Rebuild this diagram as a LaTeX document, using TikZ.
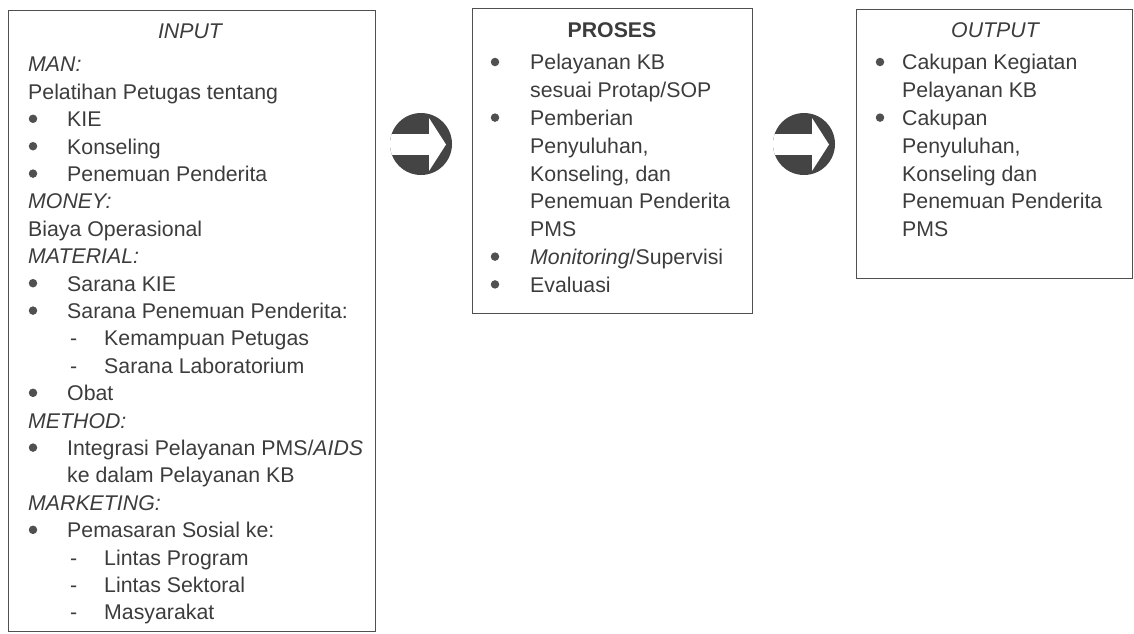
\documentclass[tikz,border=0pt]{standalone}
\usepackage{fontspec}
\setmainfont{Liberation Sans}
\begin{document}
\begin{tikzpicture}[x=1pt,y=-1pt,
  every node/.style={text=ink},
  txt/.style={anchor=base west,inner sep=0pt,font=\fontsize{21.3}{25}\selectfont},
  ttl/.style={anchor=base,inner sep=0pt,font=\fontsize{21.3}{25}\selectfont},
  panel/.style={draw=edge,line width=1.3pt,rectangle,inner sep=0pt,anchor=north west},
  dot/.style={circle,fill=edge,inner sep=0pt,minimum size=8.5pt},
  disc/.style={circle,fill=discc,inner sep=0pt,minimum size=62pt}]
\definecolor{ink}{HTML}{3C3C3C}
\definecolor{edge}{HTML}{505050}
\definecolor{discc}{HTML}{444444}
\useasboundingbox (0,0) rectangle (1134,633);
% boxes
\node[panel,minimum width=367pt,minimum height=621pt] (inbox) at (8,10) {};
\node[panel,minimum width=280pt,minimum height=305pt] (prbox) at (472,8) {};
\node[panel,minimum width=276pt,minimum height=269pt] (outbox) at (856,9) {};
% INPUT text
\def\bs{7.8}
\node[ttl] (inT) at (190,31+\bs) {\itshape INPUT};
\node[txt] (i0) at (28,64+\bs) {\itshape MAN:};
\node[txt] (i1) at (28,91.4+\bs) {Pelatihan Petugas tentang};
\node[dot] (b2) at (33,118.8) {}; \node[txt] (i2) at (67,118.8+\bs) {KIE};
\node[dot] (b3) at (33,146.2) {}; \node[txt] (i3) at (67,146.2+\bs) {Konseling};
\node[dot] (b4) at (33,173.6) {}; \node[txt] (i4) at (67,173.6+\bs) {Penemuan Penderita};
\node[txt] (i5) at (28,201+\bs) {\itshape MONEY:};
\node[txt] (i6) at (28,228.4+\bs) {Biaya Operasional};
\node[txt] (i7) at (28,255.8+\bs) {\itshape MATERIAL:};
\node[dot] (b8) at (33,283.2) {}; \node[txt] (i8) at (67,283.2+\bs) {Sarana KIE};
\node[dot] (b9) at (33,310.6) {}; \node[txt] (i9) at (67,310.6+\bs) {Sarana Penemuan Penderita:};
\node[txt] (d10) at (70,338+\bs) {-}; \node[txt] (i10) at (104,338+\bs) {Kemampuan Petugas};
\node[txt] (d11) at (70,365.4+\bs) {-}; \node[txt] (i11) at (104,365.4+\bs) {Sarana Laboratorium};
\node[dot] (b12) at (33,392.8) {}; \node[txt] (i12) at (67,392.8+\bs) {Obat};
\node[txt] (i13) at (28,420.2+\bs) {\itshape METHOD:};
\node[dot] (b14) at (33,447.6) {}; \node[txt] (i14) at (67,447.6+\bs) {Integrasi Pelayanan PMS/\textit{AIDS}};
\node[txt] (i15) at (67,475+\bs) {ke dalam Pelayanan KB};
\node[txt] (i16) at (28,502.4+\bs) {\itshape MARKETING:};
\node[dot] (b17) at (33,529.8) {}; \node[txt] (i17) at (67,529.8+\bs) {Pemasaran Sosial ke:};
\node[txt] (d18) at (70,557.2+\bs) {-}; \node[txt] (i18) at (104,557.2+\bs) {Lintas Program};
\node[txt] (d19) at (70,584.6+\bs) {-}; \node[txt] (i19) at (104,584.6+\bs) {Lintas Sektoral};
\node[txt] (d20) at (70,612+\bs) {-}; \node[txt] (i20) at (104,612+\bs) {Masyarakat};
% PROSES text
\node[ttl] (pT) at (612,30+\bs) {\bfseries PROSES};
\node[dot] (pb1) at (495,62) {}; \node[txt] (p1) at (530,62+\bs) {Pelayanan KB};
\node[txt] (p2) at (530,89.8+\bs) {sesuai Protap/SOP};
\node[dot] (pb3) at (495,117.6) {}; \node[txt] (p3) at (530,117.6+\bs) {Pemberian};
\node[txt] (p4) at (530,145.4+\bs) {Penyuluhan,};
\node[txt] (p5) at (530,173.2+\bs) {Konseling, dan};
\node[txt] (p6) at (530,201+\bs) {Penemuan Penderita};
\node[txt] (p7) at (530,228.8+\bs) {PMS};
\node[dot] (pb8) at (495,256.6) {}; \node[txt] (p8) at (530,256.6+\bs) {\textit{Monitoring}/Supervisi};
\node[dot] (pb9) at (495,284.4) {}; \node[txt] (p9) at (530,284.4+\bs) {Evaluasi};
% OUTPUT text
\node[ttl] (oT) at (995,30+\bs) {\itshape OUTPUT};
\node[dot] (ob1) at (880,62) {}; \node[txt] (o1) at (902,62+\bs) {Cakupan Kegiatan};
\node[txt] (o2) at (902,89.8+\bs) {Pelayanan KB};
\node[dot] (ob3) at (880,117.6) {}; \node[txt] (o3) at (902,117.6+\bs) {Cakupan};
\node[txt] (o4) at (902,145.4+\bs) {Penyuluhan,};
\node[txt] (o5) at (902,173.2+\bs) {Konseling dan};
\node[txt] (o6) at (902,201+\bs) {Penemuan Penderita};
\node[txt] (o7) at (902,228.8+\bs) {PMS};
% arrow discs
\foreach \n/\cx in {arrA/421,arrB/804}{
  \node[disc] (\n) at (\cx,144) {};
  \begin{scope}
    \clip (\n.center) circle (31pt);
    \fill[white] ([xshift=-40pt,yshift=-11pt]\n.center) rectangle ([xshift=9pt,yshift=10pt]\n.center);
    \fill[white] ([xshift=8pt,yshift=-27pt]\n.center) -- ([xshift=25pt,yshift=-0.5pt]\n.center) -- ([xshift=8pt,yshift=26pt]\n.center) -- cycle;
  \end{scope}
}
\end{tikzpicture}
\end{document}
